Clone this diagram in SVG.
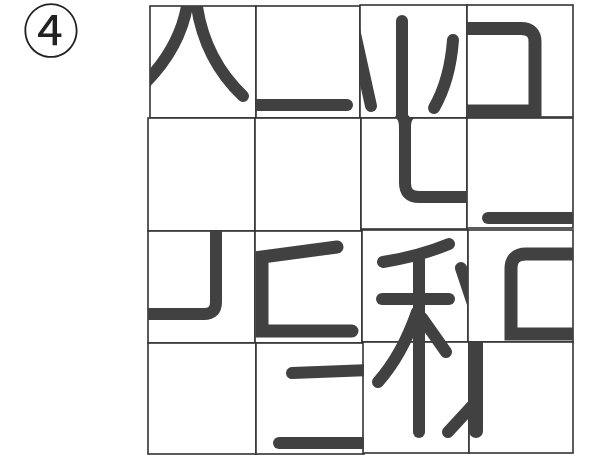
<svg xmlns="http://www.w3.org/2000/svg" width="592" height="456" viewBox="0 0 592 456">
<style>
.tile{fill:#fff;stroke:#333;stroke-width:1.6}
.s{fill:none;stroke:#414141;stroke-width:12;stroke-linecap:round;stroke-linejoin:round}
.m{fill:none;stroke:#414141;stroke-width:13;stroke-linecap:butt;stroke-linejoin:miter}
.f{fill:#414141}
.num{font-family:"Noto Sans CJK JP","Noto Sans CJK SC",sans-serif;font-size:57px;fill:#222}
</style>
<defs>
<clipPath id="c11"><rect x="150" y="6" width="106" height="112"/></clipPath>
<clipPath id="c12"><rect x="256" y="6" width="104" height="112"/></clipPath>
<clipPath id="c13"><rect x="360" y="5" width="107" height="113"/></clipPath>
<clipPath id="c14"><rect x="467" y="5" width="106" height="112"/></clipPath>
<clipPath id="c23"><rect x="361" y="118" width="106" height="111"/></clipPath>
<clipPath id="c24"><rect x="467" y="118" width="106" height="110"/></clipPath>
<clipPath id="c31"><rect x="148" y="231" width="107" height="112"/></clipPath>
<clipPath id="c32"><rect x="255" y="231" width="107" height="112"/></clipPath>
<clipPath id="c33"><rect x="362" y="230" width="106" height="112"/></clipPath>
<clipPath id="c3343"><rect x="362" y="230" width="107" height="223"/></clipPath>
<clipPath id="c34"><rect x="468" y="230" width="105" height="112"/></clipPath>
<clipPath id="c42"><rect x="256" y="343" width="108" height="111"/></clipPath>
<clipPath id="c43"><rect x="363" y="342" width="106" height="111"/></clipPath>
<clipPath id="c44"><rect x="469" y="342" width="104" height="111"/></clipPath>
</defs>
<rect width="592" height="456" fill="#fff"/>
<text class="num" x="51" y="52" text-anchor="middle">④</text>

<g id="tiles">
<rect id="t11" class="tile" x="150" y="6" width="106" height="112"/>
<rect id="t12" class="tile" x="256" y="6" width="104" height="112"/>
<rect id="t13" class="tile" x="360" y="5" width="107" height="113"/>
<rect id="t14" class="tile" x="467" y="5" width="106" height="112"/>
<rect id="t21" class="tile" x="148" y="118" width="107" height="113"/>
<rect id="t22" class="tile" x="255" y="118" width="106" height="113"/>
<rect id="t23" class="tile" x="361" y="118" width="106" height="111"/>
<rect id="t24" class="tile" x="467" y="118" width="106" height="110"/>
<rect id="t31" class="tile" x="148" y="231" width="107" height="112"/>
<rect id="t32" class="tile" x="255" y="231" width="107" height="112"/>
<rect id="t33" class="tile" x="362" y="230" width="106" height="112"/>
<rect id="t34" class="tile" x="468" y="230" width="105" height="112"/>
<rect id="t41" class="tile" x="148" y="343" width="108" height="111"/>
<rect id="t42" class="tile" x="256" y="343" width="108" height="111"/>
<rect id="t43" class="tile" x="363" y="342" width="106" height="111"/>
<rect id="t44" class="tile" x="469" y="342" width="104" height="111"/>
</g>

<g id="strokes">
<g id="s11" clip-path="url(#c11)">
<path class="s" d="M188,0 Q182,45 146,82"/>
<path class="s" d="M196,0 Q203,58 243,96"/>
</g>
<g id="s12" clip-path="url(#c12)">
<path class="s" d="M250,105 H347"/>
</g>
<g id="s13" clip-path="url(#c13)">
<path class="s" d="M352,20 L371,106"/>
<path class="s" d="M402,21 V125"/>
<path class="f" d="M394,118 C398,114 399,108 399,100 L405,100 C405,108 406,114 411,118 Z"/>
<path class="s" d="M453,40 Q450,80 434,108"/>
</g>
<g id="s14" clip-path="url(#c14)">
<path class="m" d="M460,28.5 H521 Q535,28.5 535,42 V111 H460"/>
</g>
<g id="s23" clip-path="url(#c23)">
<path class="s" d="M405,110 V183 Q405,197 419,197 H475"/>
<path class="f" d="M396,118 C399,121 399,124 399,130 L411,130 C411,124 411,121 414,118 Z"/>
</g>
<g id="s24" clip-path="url(#c24)">
<path class="s" d="M488,218 H580"/>
</g>
<g id="s31" clip-path="url(#c31)">
<path class="s" d="M216,225 V302 Q216,314 204,314 H140"/>
</g>
<g id="s32" clip-path="url(#c32)">
<path class="s" style="stroke-linejoin:miter;stroke-width:13" d="M337,247 L262,257 V331 H352"/>
</g>
<g id="s33" clip-path="url(#c3343)">
<path class="s" d="M383,262 Q420,256 449,244"/>
<path class="s" d="M382,299 H449"/>
<path class="s" d="M419,256 V432"/>
<path class="s" d="M417,312 Q402,355 378,382"/>
<path class="s" d="M422,318 L446,352"/>
</g>
<g id="s33b" clip-path="url(#c33)">
<path class="s" d="M461,268 L475,310"/>
</g>
<g id="s34" clip-path="url(#c34)">
<path class="m" d="M580,254 H526 Q511,254 511,269 V334 H580"/>
</g>
<g id="s42" clip-path="url(#c42)">
<path class="s" d="M292,373 L370,370"/>
<path class="s" d="M279,443 H370"/>
</g>
<g id="s43" clip-path="url(#c43)">
<path class="s" d="M448,432 L472,406"/>
</g>
<g id="s44" clip-path="url(#c44)">
<path class="s" style="stroke-width:14" d="M476,336 V431"/>
</g>
</g>
</svg>
